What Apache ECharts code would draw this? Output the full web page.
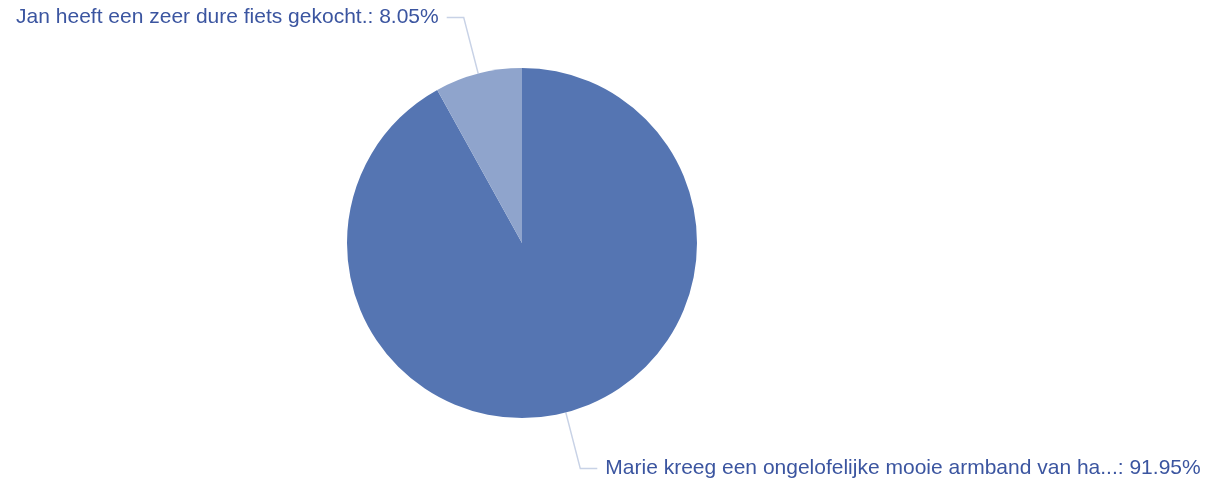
<!DOCTYPE html>
<html><head><meta charset="utf-8">
<script src="https://cdn.jsdelivr.net/npm/echarts@6/dist/echarts.min.js"></script>
<style>html,body{margin:0;padding:0;background:#fff}#c{width:1213px;height:483px}</style>
</head><body><div id="c"></div>
<script>
const categories = ['Marie kreeg een ongelofelijke mooie armband van ha...', 'Jan heeft een zeer dure fiets gekocht.'];
const values = [91.95, 8.05];
const colors = ['#5575b2', '#8fa4cc'];

const chart = echarts.init(document.getElementById('c'));
chart.setOption({
  animation: false,
  series: [{
    type: 'pie',
    center: [522, 243],
    radius: 175,
    startAngle: 90,
    clockwise: true,
    data: categories.map((n, i) => ({name: n, value: values[i], itemStyle: {color: colors[i]}})),
    label: {
      formatter: p => p.name + ': ' + p.value.toFixed(2) + '%',
      color: '#3b55a0',
      fontFamily: 'Liberation Sans, Arial, sans-serif',
      fontSize: 21,
      distanceToLabelLine: 8
    },
    labelLine: { length: 58, length2: 17, lineStyle: { color: '#c8d2e6', width: 1.5 } },
    emphasis: { disabled: true }
  }]
});
</script></body></html>
